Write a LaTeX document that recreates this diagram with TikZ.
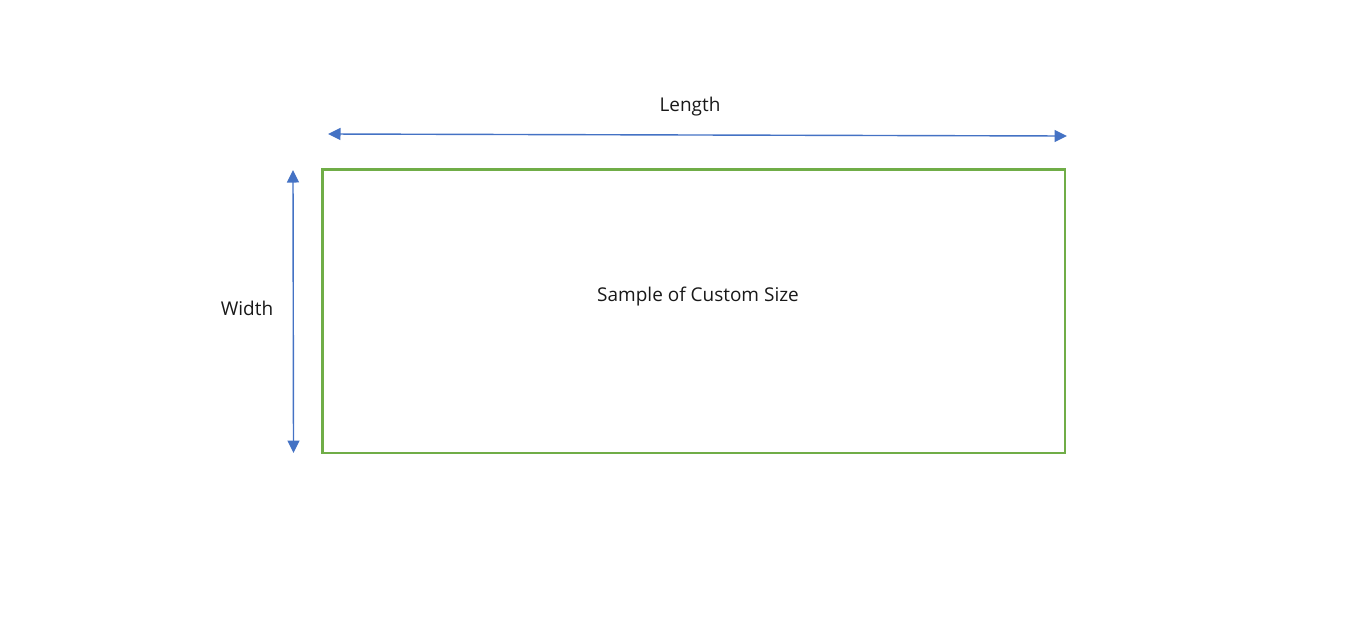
\documentclass[tikz,border=0pt]{standalone}
\usepackage{fontspec}
\setmainfont{Open Sans}
\usepackage{tikz}
\usetikzlibrary{arrows.meta, positioning}

\definecolor{dimblue}{HTML}{4472C4}
\definecolor{boxgreen}{HTML}{70AD47}

\begin{document}
\begin{tikzpicture}[
		dimline/.style={draw=dimblue, line width=0.8pt, {Triangle[length=0.25cm, width=0.24cm]}-{Triangle[length=0.25cm, width=0.24cm]}},
		dimtext/.style={font=\fontsize{10.8}{13}\selectfont, text=black!90, inner sep=0pt}
	]
		\useasboundingbox (0,0) rectangle (27,-12.58);
		\node[draw=boxgreen, line width=1.4pt, minimum width=14.85cm, minimum height=5.67cm, inner sep=0pt] (sample) at (13.875,-6.225) {};
		\node[dimtext] (S) at (13.96,-5.93) {Sample of Custom Size};
		% dimension arrows
		\coordinate (l1) at (6.56,-2.68);
		\coordinate (l2) at (21.34,-2.72);
		\coordinate (w1) at (5.86,-3.40);
		\coordinate (w2) at (5.87,-9.06);
		\node[dimtext] (L) at (13.8,-2.14) {Length};
		\node[dimtext] (W) at (4.94,-6.16) {Width};
		\draw[dimline] (l1) -- (l2);
		\draw[dimline] (w1) -- (w2);
\end{tikzpicture}
\end{document}
